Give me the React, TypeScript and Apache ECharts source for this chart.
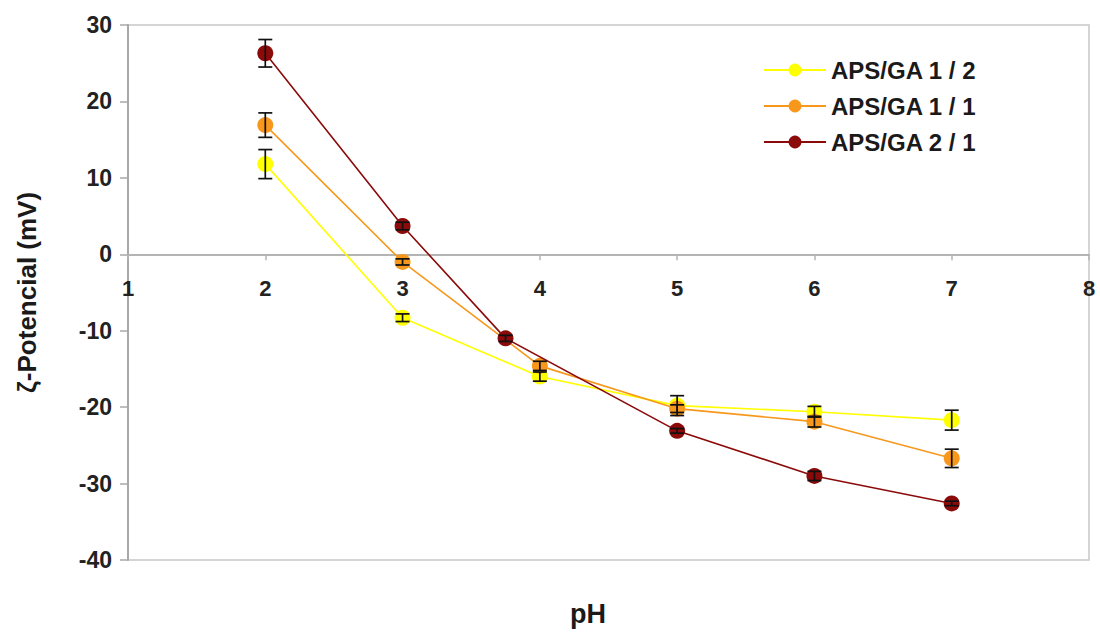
import React, { useEffect, useRef } from "react";
import * as echarts from "echarts";

const seriesNames = ["APS/GA 1 / 2", "APS/GA 1 / 1", "APS/GA 2 / 1"];
const seriesColors = ["#FFFF00", "#F7981D", "#8B0A0A"];

const phA = [2, 3, 4, 5, 6, 7];
const valA = [11.8, -8.3, -16.0, -19.8, -20.6, -21.7];
const errA = [1.9, 0.5, 0.6, 1.3, 0.7, 1.3];

const phB = [2, 3, 4, 5, 6, 7];
const valB = [16.9, -1.0, -14.6, -20.2, -21.9, -26.7];
const errB = [1.6, 0.4, 0.6, 0.5, 0.7, 1.2];

const phC = [2, 3, 3.75, 5, 6, 7];
const valC = [26.3, 3.7, -11.0, -23.1, -29.0, -32.6];
const errC = [1.8, 0.5, 0.4, 0.3, 0.6, 0.3];

const xTicks = [1, 8, 1];
const yTicks = [-40, 30, 10];

const FONT = "Liberation Sans, Arial, sans-serif";

const GRID_TOP = 25;
const GRID_BOTTOM = 72;
const CHART_H = 632;

export default function App() {
  const ref = useRef<HTMLDivElement>(null);
  useEffect(() => {
    if (!ref.current) return;
    const chart = echarts.init(ref.current, null, { renderer: "svg" });
    const groups = [
      { ph: phA, val: valA, err: errA },
      { ph: phB, val: valB, err: errB },
      { ph: phC, val: valC, err: errC },
    ];
    // place the x axis on y = 0 (offset from the grid bottom)
    const plotH = CHART_H - GRID_TOP - GRID_BOTTOM;
    const zeroFromBottom = (plotH * (0 - yTicks[0])) / (yTicks[1] - yTicks[0]);
    const lineSeries = groups.map((g, i) => ({
      name: seriesNames[i],
      type: "line",
      data: g.ph.map((x, k) => [x, g.val[k]]),
      symbol: "circle",
      symbolSize: 16,
      itemStyle: { color: seriesColors[i] },
      lineStyle: { color: seriesColors[i], width: 1.6 },
      z: 2 + i,
    }));
    const errSeries = groups.map((g, i) => ({
      name: seriesNames[i] + " err",
      type: "custom",
      data: g.ph.map((x, k) => [x, g.val[k], g.err[k]]),
      z: 10,
      renderItem: (params: any, api: any) => {
        const x = api.value(0);
        const y = api.value(1);
        const e = api.value(2);
        const top = api.coord([x, y + e]);
        const bot = api.coord([x, y - e]);
        const hw = 7;
        const style = { stroke: "#111", lineWidth: 1.7 };
        return {
          type: "group",
          children: [
            { type: "line", shape: { x1: top[0], y1: top[1], x2: bot[0], y2: bot[1] }, style },
            { type: "line", shape: { x1: top[0] - hw, y1: top[1], x2: top[0] + hw, y2: top[1] }, style },
            { type: "line", shape: { x1: bot[0] - hw, y1: bot[1], x2: bot[0] + hw, y2: bot[1] }, style },
          ],
        };
      },
    }));
    chart.setOption({
      animation: false,
      backgroundColor: "#fff",
      grid: {
        left: 128,
        right: 11,
        top: GRID_TOP,
        bottom: GRID_BOTTOM,
        show: true,
        borderColor: "#c8c8c8",
        borderWidth: 1.5,
      },
      legend: {
        data: seriesNames,
        orient: "vertical",
        left: 758,
        top: 53,
        itemWidth: 62,
        itemHeight: 16,
        itemGap: 12,
        textStyle: { fontFamily: FONT, fontWeight: "bold", fontSize: 24, color: "#1a1a1a" },
      },
      xAxis: {
        type: "value",
        min: xTicks[0],
        max: xTicks[1],
        interval: xTicks[2],
        position: "bottom",
        offset: -zeroFromBottom,
        axisLine: { onZero: false, lineStyle: { color: "#b4b4b4", width: 2 } },
        axisTick: { show: true, length: 6, lineStyle: { color: "#b4b4b4", width: 1.5 } },
        axisLabel: {
          margin: 23,
          fontFamily: FONT,
          fontWeight: "bold",
          fontSize: 22,
          color: "#222",
        },
        splitLine: { show: false },
      },
      yAxis: {
        type: "value",
        min: yTicks[0],
        max: yTicks[1],
        interval: yTicks[2],
        name: "ζ-Potencial (mV)",
        nameLocation: "middle",
        nameGap: 88,
        nameTextStyle: { fontFamily: FONT, fontWeight: "bold", fontSize: 26, color: "#1a1a1a" },
        axisLine: { show: true, onZero: false, lineStyle: { color: "#a8a8a8", width: 2 } },
        axisTick: { show: true, length: 8, lineStyle: { color: "#a8a8a8", width: 1.5 } },
        axisLabel: {
          margin: 16,
          fontFamily: FONT,
          fontWeight: "bold",
          fontSize: 23,
          color: "#222",
        },
        splitLine: { show: false },
      },
      graphic: [
        {
          type: "text",
          left: 570,
          top: 600,
          style: { text: "pH", font: `bold 27px ${FONT}`, fill: "#1a1a1a" },
        },
      ],
      series: [...lineSeries, ...errSeries],
    });
    return () => chart.dispose();
  }, []);
  return (
    <div
      ref={ref}
      style={{ position: "fixed", left: 0, top: 0, width: 1100, height: 632, background: "#fff" }}
    />
  );
}
